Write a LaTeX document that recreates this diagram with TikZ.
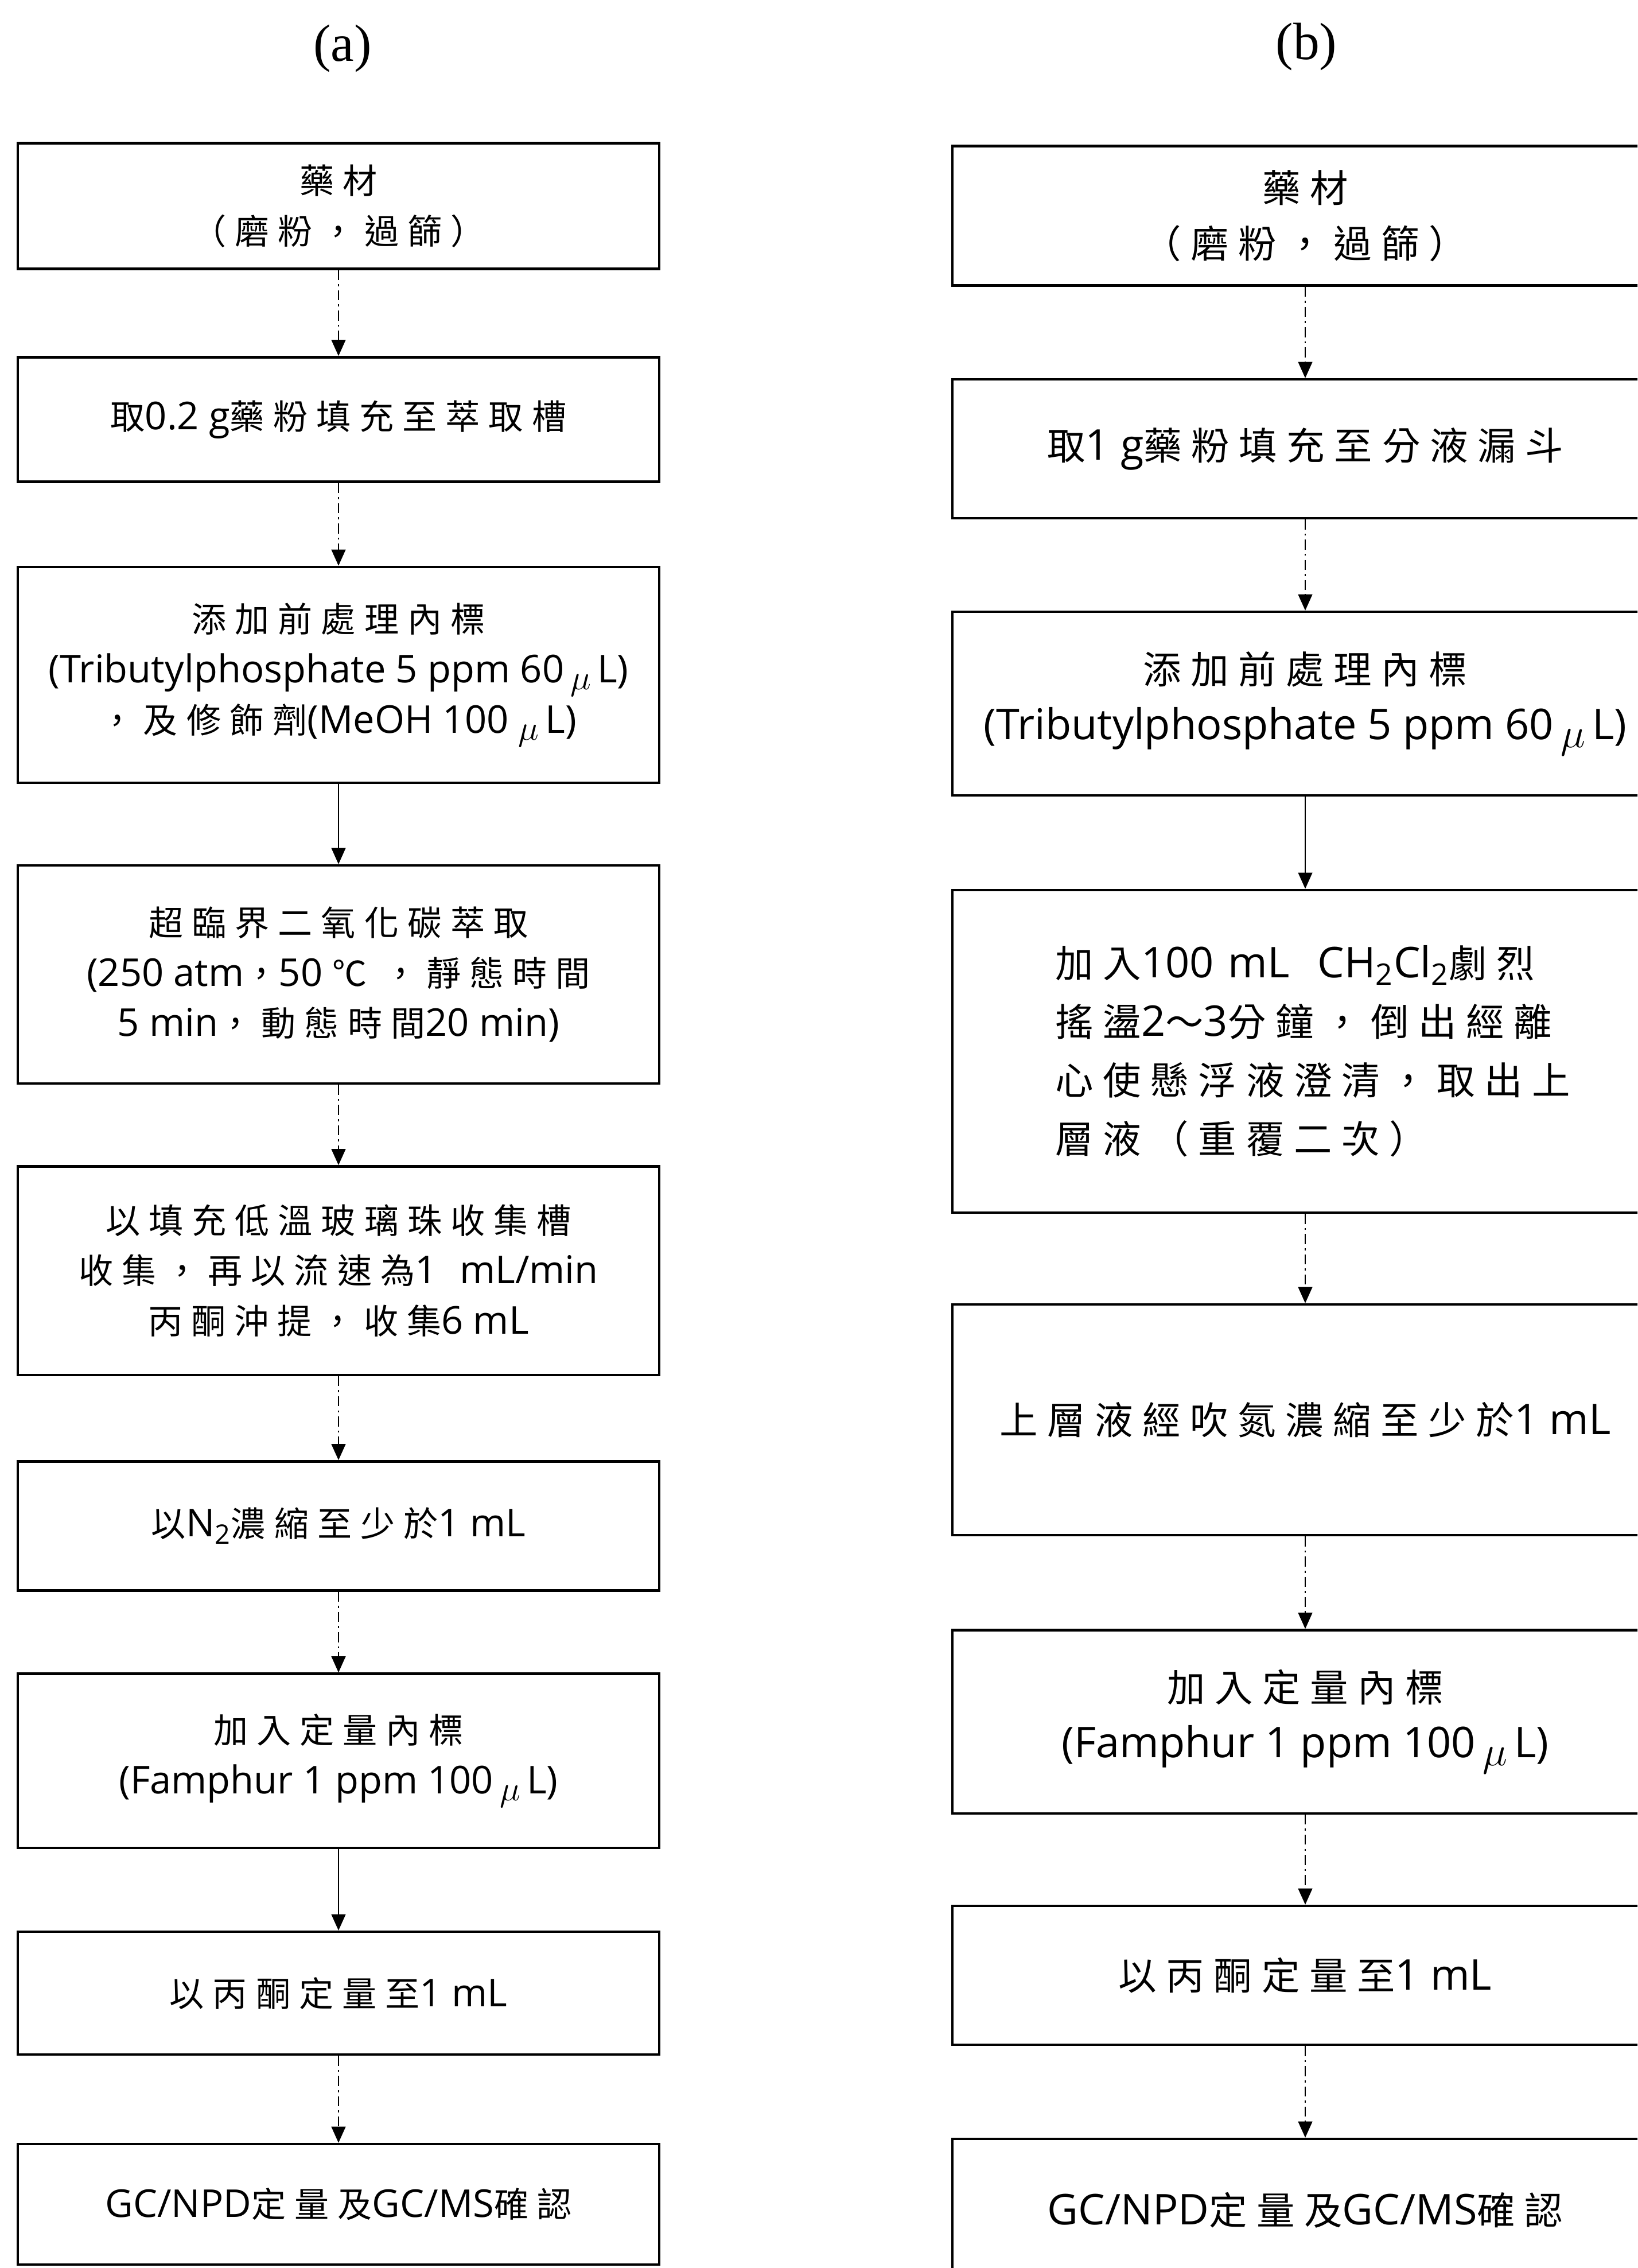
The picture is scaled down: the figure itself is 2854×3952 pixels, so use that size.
\documentclass[tikz,border=0pt]{standalone}
\usepackage{fontspec}
\setmainfont{Open Sans}
\newfontfamily\cjk[LetterSpace=25,Scale=0.9]{Noto Sans CJK TC}
\newfontfamily\serifl{Liberation Serif}
\usetikzlibrary{arrows.meta}
\newcommand\zh[1]{{\cjk #1}}
\newcommand\mul{\raisebox{-0.35ex}{$\mu$}\,}
\begin{document}
\begin{tikzpicture}[x=0.01cm,y=-0.01cm,
  box/.style={draw, line width=1.2pt, inner sep=0pt, align=center, font=\fontsize{19}{25}\selectfont},
  lbox/.style={box, minimum width=11.17cm},
  rbox/.style={box, minimum width=12.3cm, font=\fontsize{21}{27.5}\selectfont},
  conn/.style={line width=0.7pt, -{Triangle[width=7pt,length=8pt]}},
  dconn/.style={conn, dash pattern=on 5pt off 2pt on 1pt off 2pt},
  lab/.style={font=\serifl\fontsize{26}{30}\selectfont}]
\useasboundingbox (0,0) rectangle (2854,3952);
\fill[white] (0,0) rectangle (2854,3952);
\clip (0,0) rectangle (2854,3952);

% labels
\node[lab] (la) at (597,85) {(a)};
\node[lab] (lb) at (2277,82) {(b)};

% left column
\node[lbox, minimum height=2.19cm] (a1) at (590,359) {\zh{藥材}\\\zh{（磨粉，過篩）}};
\node[lbox, minimum height=2.17cm] (a2) at (590,731) {\zh{取}0.2 g\zh{藥粉填充至萃取槽}};
\node[lbox, minimum height=3.76cm] (a3) at (590,1176) {\zh{添加前處理內標}\\(Tributylphosphate 5 ppm 60\,\mul L)\\\zh{，及修飾劑}(MeOH 100 \mul L)};
\node[lbox, minimum height=3.80cm] (a4) at (590,1698) {\zh{超臨界二氧化碳萃取}\\(250 atm\zh{，}50 \zh{℃ ，靜態時間}\\5 min\zh{，動態時間}20 min)};
\node[lbox, minimum height=3.63cm] (a5) at (590,2214) {\zh{以填充低溫玻璃珠收集槽}\\\zh{收集，再以流速為}1\,\, mL/min\\\zh{丙酮沖提，收集}6 mL};
\node[lbox, minimum height=2.25cm] (a6) at (590,2659) {\zh{以}N\textsubscript{2}\zh{濃縮至少於}1 mL};
\node[lbox, minimum height=3.03cm] (a7) at (590,3068) {\zh{加入定量內標}\\(Famphur 1 ppm 100\,\mul L)};
\node[lbox, minimum height=2.14cm] (a8) at (590,3473) {\zh{以丙酮定量至}1 mL};
\node[lbox, minimum height=2.10cm] (a9) at (590,3841) {GC/NPD\zh{定量及}GC/MS\zh{確認}};

\draw[dconn] (a1.south) -- (a2.north);
\draw[dconn] (a2.south) -- (a3.north);
\draw[conn]  (a3.south) -- (a4.north);
\draw[dconn] (a4.south) -- (a5.north);
\draw[dconn] (a5.south) -- (a6.north);
\draw[dconn] (a6.south) -- (a7.north);
\draw[conn]  (a7.south) -- (a8.north);
\draw[dconn] (a8.south) -- (a9.north);

% right column (right edges run off the page)
\node[rbox, minimum height=2.43cm] (b1) at (2275,376) {\zh{藥材}\\\zh{（磨粉，過篩）}};
\node[rbox, minimum height=2.42cm] (b2) at (2275,782) {\zh{取}1 g\zh{藥粉填充至分液漏斗}};
\node[rbox, minimum height=3.20cm] (b3) at (2275,1226) {\zh{添加前處理內標}\\(Tributylphosphate 5 ppm 60\,\mul L)};
\node[box, align=left, text width=9.3cm, inner xsep=1.8cm, minimum height=5.62cm,
      font=\fontsize{21}{29}\selectfont] (b4) at (2305,1832)
  {\zh{加入}100 mL\,\, CH\textsubscript{2}Cl\textsubscript{2}\zh{劇烈}\\\zh{搖盪}2\zh{～}3\zh{分鐘，倒出經離}\\\zh{心使懸浮液澄清，取出上}\\\zh{層液（重覆二次）}};
\node[rbox, minimum height=4.02cm] (b5) at (2275,2474) {\zh{上層液經吹氮濃縮至少於}1 mL};
\node[rbox, minimum height=3.19cm] (b6) at (2275,3000) {\zh{加入定量內標}\\(Famphur 1 ppm 100\,\mul L)};
\node[rbox, minimum height=2.42cm] (b7) at (2275,3442) {\zh{以丙酮定量至}1 mL};
\node[rbox, minimum height=2.48cm] (b8) at (2275,3851) {GC/NPD\zh{定量及}GC/MS\zh{確認}};

\draw[dconn] (b1.south) -- (b2.north);
\draw[dconn] (b2.south) -- (b3.north);
\draw[conn]  (b3.south) -- (b3.south |- b4.north);
\draw[dconn] (b5.north |- b4.south) -- (b5.north);
\draw[dconn] (b5.south) -- (b6.north);
\draw[dconn] (b6.south) -- (b7.north);
\draw[dconn] (b7.south) -- (b8.north);
\end{tikzpicture}
\end{document}
